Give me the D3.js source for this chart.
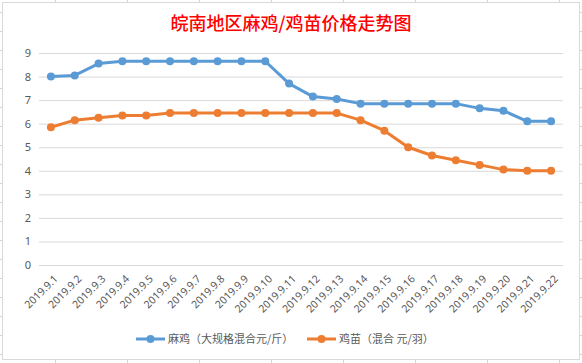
<!DOCTYPE html>
<html>
<head>
<meta charset="utf-8">
<script src="https://cdn.jsdelivr.net/npm/d3@7"></script>
<style>
    body { margin: 0; background: #fff; }
    text { font-family: "Noto Sans CJK SC", "Noto Sans", sans-serif; }
</style>
</head>
<body>
<div id="chart"></div>
<script>
    "use strict";

    // chart data
    var dates = ["2019.9.1", "2019.9.2", "2019.9.3", "2019.9.4", "2019.9.5", "2019.9.6", "2019.9.7",
        "2019.9.8", "2019.9.9", "2019.9.10", "2019.9.11", "2019.9.12", "2019.9.13", "2019.9.14",
        "2019.9.15", "2019.9.16", "2019.9.17", "2019.9.18", "2019.9.19", "2019.9.20", "2019.9.21", "2019.9.22"];
    var chickenPrices = [8.0, 8.05, 8.55, 8.65, 8.65, 8.65, 8.65, 8.65, 8.65, 8.65, 7.7,
        7.15, 7.05, 6.85, 6.85, 6.85, 6.85, 6.85, 6.65, 6.55, 6.1, 6.1];
    var chickPrices = [5.85, 6.15, 6.25, 6.35, 6.35, 6.45, 6.45, 6.45, 6.45, 6.45, 6.45,
        6.45, 6.45, 6.15, 5.7, 5.0, 4.65, 4.45, 4.25, 4.05, 4.0, 4.0];
    var yTicks = [0, 1, 2, 3, 4, 5, 6, 7, 8, 9];
    var seriesNames = ["麻鸡（大规格混合元/斤）", "鸡苗（混合 元/羽）"];
    var seriesColors = ["#5B9BD5", "#ED7D31"];

    var width = 582;
    var height = 363;

    var svg = d3.select("#chart").append("svg")
        .attr("width", width)
        .attr("height", height);

    // spreadsheet cell marks around the chart frame
    var rowMarks = d3.range(12, height, 19);
    var colMarks = d3.range(55, width, 72);
    svg.selectAll(".row-mark").data(rowMarks).enter().append("line")
        .attr("x1", 0).attr("x2", width)
        .attr("y1", function (d) { return d + 0.5; })
        .attr("y2", function (d) { return d + 0.5; })
        .style("stroke", "#d4d4d4");
    svg.selectAll(".col-mark").data(colMarks).enter().append("line")
        .attr("y1", 0).attr("y2", height)
        .attr("x1", function (d) { return d + 0.5; })
        .attr("x2", function (d) { return d + 0.5; })
        .style("stroke", "#d4d4d4");

    // chart frame
    svg.append("rect")
        .attr("x", 2.5).attr("y", 2.5)
        .attr("width", 577).attr("height", 357)
        .style("fill", "#fff")
        .style("stroke", "#d9d9d9");

    // title
    svg.append("text")
        .attr("x", 291)
        .attr("y", 24)
        .attr("dy", "0.35em")
        .style("text-anchor", "middle")
        .style("font-size", "18px")
        .style("font-weight", 500)
        .style("fill", "#ff0000")
        .text("皖南地区麻鸡/鸡苗价格走势图");

    // scales
    var xScale = d3.scaleBand()
        .domain(dates)
        .range([39, 563]);
    var yScale = d3.scaleLinear()
        .domain([0, 9])
        .range([265, 53]);

    function xMap(d, i) { return xScale(dates[i]) + xScale.bandwidth() / 2; }

    // y axis with gridlines
    var yAxis = d3.axisLeft(yScale)
        .tickValues(yTicks)
        .tickSizeInner(-(563 - 39))
        .tickSizeOuter(0)
        .tickPadding(8);

    var yAxisG = svg.append("g")
        .attr("transform", "translate(39,0)")
        .call(yAxis);
    yAxisG.select(".domain").remove();
    yAxisG.selectAll("line").style("stroke", "#d9d9d9");
    yAxisG.selectAll("text")
        .style("font-size", "11px")
        .style("fill", "#595959")
        .style("font-family", "\"Noto Sans\", sans-serif");

    // x axis labels, rotated
    var xAxis = d3.axisBottom(xScale).tickSize(0).tickPadding(0);
    var xAxisG = svg.append("g")
        .attr("transform", "translate(0,265)")
        .call(xAxis);
    xAxisG.select(".domain").remove();
    xAxisG.selectAll("text")
        .attr("y", 0)
        .attr("dy", "0.35em")
        .attr("transform", "translate(5,12) rotate(-45)")
        .style("text-anchor", "end")
        .style("font-size", "10.5px")
        .style("fill", "#595959")
        .style("font-family", "\"Noto Sans\", sans-serif");

    // draw lines and dots
    var allSeries = [chickenPrices, chickPrices];
    var line = d3.line()
        .x(xMap)
        .y(function (d) { return yScale(d); });

    allSeries.forEach(function (values, s) {
        svg.append("path")
            .datum(values)
            .attr("d", line)
            .style("fill", "none")
            .style("stroke", seriesColors[s])
            .style("stroke-width", 3)
            .style("stroke-linejoin", "round");

        svg.selectAll(".dot-" + s)
            .data(values)
            .enter()
            .append("circle")
            .attr("class", "dot-" + s)
            .attr("cx", xMap)
            .attr("cy", function (d) { return yScale(d); })
            .attr("r", 4)
            .style("fill", seriesColors[s]);
    });

    // legend
    var legendX = [136, 307];
    var legendY = 339;
    seriesNames.forEach(function (name, s) {
        var g = svg.append("g").attr("transform", "translate(" + legendX[s] + "," + legendY + ")");
        g.append("line")
            .attr("x1", 0).attr("x2", 29)
            .style("stroke", seriesColors[s])
            .style("stroke-width", 3);
        g.append("circle")
            .attr("cx", 14.5)
            .attr("r", 4)
            .style("fill", seriesColors[s]);
        g.append("text")
            .attr("x", 32)
            .attr("dy", "0.35em")
            .style("font-size", "11px")
            .style("fill", "#595959")
            .text(name);
    });
</script>
</body>
</html>
